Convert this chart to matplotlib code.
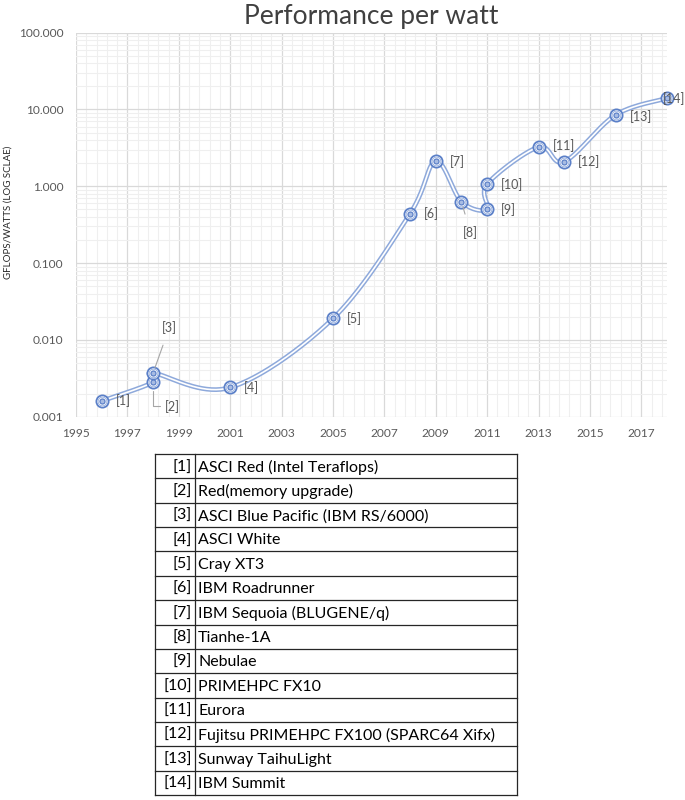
import numpy as np
import matplotlib
matplotlib.use("Agg")
import matplotlib.pyplot as plt
from matplotlib.ticker import FixedLocator, FuncFormatter, NullFormatter

# ---------------- data ----------------
years = [1996, 1998, 1998, 2001, 2005, 2008, 2009, 2010, 2011, 2011, 2013, 2014, 2016, 2018]
gflops_per_watt = [0.0016, 0.0028, 0.0037, 0.0024, 0.019, 0.44, 2.13, 0.63, 0.50, 1.07,
                   3.24, 2.09, 8.5, 14.0]
point_labels = ["[1]", "[2]", "[3]", "[4]", "[5]", "[6]", "[7]", "[8]", "[9]", "[10]",
                "[11]", "[12]", "[13]", "[14]"]
system_names = [
    "ASCI Red (Intel Teraflops)",
    "Red(memory upgrade)",
    "ASCI Blue Pacific (IBM RS/6000)",
    "ASCI White",
    "Cray XT3",
    "IBM Roadrunner",
    "IBM Sequoia (BLUGENE/q)",
    "Tianhe-1A",
    "Nebulae",
    "PRIMEHPC FX10",
    "Eurora",
    "Fujitsu PRIMEHPC FX100 (SPARC64 Xifx)",
    "Sunway TaihuLight",
    "IBM Summit",
]
x_ticks = [1995, 1997, 1999, 2001, 2003, 2005, 2007, 2009, 2011, 2013, 2015, 2017]
y_ticks = [0.001, 0.01, 0.1, 1, 10, 100]

plt.rcParams["font.family"] = ["Lato", "DejaVu Sans"]

W, H = 685, 800
fig = plt.figure(figsize=(W / 100, H / 100), dpi=100)

L, R, T, B = 76, 667, 32.7, 416.7
ax = fig.add_axes([L / W, 1 - B / H, (R - L) / W, (B - T) / H])
ax.set_xlim(1995, 2018)
ax.set_yscale("log")
ax.set_ylim(0.001, 100)

# grid
ax.xaxis.set_major_locator(FixedLocator(x_ticks))
ax.xaxis.set_minor_locator(FixedLocator(np.arange(1995, 2018.01, 0.4)))
minor_y = [m * 10.0 ** e for e in range(-3, 2) for m in range(2, 10)]
ax.yaxis.set_major_locator(FixedLocator(y_ticks))
ax.yaxis.set_minor_locator(FixedLocator(minor_y))
ax.yaxis.set_major_formatter(FuncFormatter(lambda v, p: f"{v:.3f}"))
ax.yaxis.set_minor_formatter(NullFormatter())
ax.grid(which="major", color="#D9D9D9", lw=0.9)
ax.grid(which="minor", color="#EFEFEF", lw=0.8)
ax.set_axisbelow(True)
for s in ax.spines.values():
    s.set_visible(False)
ax.tick_params(which="both", length=0)
ax.tick_params(axis="y", labelsize=8.6, labelcolor="#595959", pad=9)
ax.tick_params(axis="x", labelsize=8.6, labelcolor="#595959", pad=8)

# smoothed line (Catmull-Rom / Bezier, computed in screen-proportional space)
sx = (R - L) / 23.0
sy = (B - T) / 5.0
P = np.column_stack([np.array(years, float) * sx, np.log10(gflops_per_watt) * sy])
n = len(P)
curve = []
for i in range(n - 1):
    p0 = P[max(i - 1, 0)]
    p1 = P[i]
    p2 = P[i + 1]
    p3 = P[min(i + 2, n - 1)]
    c1 = p1 + (p2 - p0) / 6.0
    c2 = p2 - (p3 - p1) / 6.0
    t = np.linspace(0, 1, 40)[:, None]
    seg = ((1 - t) ** 3) * p1 + 3 * ((1 - t) ** 2) * t * c1 + 3 * (1 - t) * t ** 2 * c2 + t ** 3 * p2
    curve.append(seg if i == 0 else seg[1:])
curve = np.vstack(curve)
cx = curve[:, 0] / sx
cy = 10 ** (curve[:, 1] / sy)
ax.plot(cx, cy, color="#8EA9DB", lw=3.4, solid_capstyle="round", zorder=3, clip_on=False)
ax.plot(cx, cy, color="white", lw=1.2, solid_capstyle="round", zorder=3.1, clip_on=False)

# markers
ax.plot(years, gflops_per_watt, "o", ms=8.8, mfc="white", mec="#5B80C8", mew=1.3,
        zorder=4, clip_on=False)
ax.plot(years, gflops_per_watt, "o", ms=6.3, mfc="none", mec="#9DB4E0", mew=0.7,
        zorder=4.1, clip_on=False)
ax.plot(years, gflops_per_watt, "o", ms=3.6, mfc="#A8BCE3", mec="#5B80C8", mew=0.9,
        zorder=4.2, clip_on=False)

LFS = 9.0
# point labels (pixel offsets)
offsets = {0: (14, 0), 1: None, 2: None, 3: (14, 0), 4: (14, 0), 5: (14, 0), 6: (14, 0),
           7: None, 8: (14, 0), 9: (14, -1), 10: (14, 2), 11: (14, 0), 12: (14, -2),
           13: (-4, 0)}
for i, lab in enumerate(point_labels):
    off = offsets[i]
    if off is None:
        continue
    ax.annotate(lab, (years[i], gflops_per_watt[i]), xytext=off, textcoords="offset pixels",
                ha="left", va="center", fontsize=LFS, color="#595959", zorder=5,
                annotation_clip=False)

lead = dict(color="#A6A6A6", lw=0.8)
# [3]
ax.annotate("[3]", (years[2], gflops_per_watt[2]), xytext=(16, 45), textcoords="offset pixels",
            ha="center", va="center", fontsize=LFS, color="#595959", zorder=5,
            arrowprops=dict(arrowstyle="-", shrinkA=6, shrinkB=4, **lead))
# [2] with elbow leader
ax.annotate("[2]", (years[1], gflops_per_watt[1]), xytext=(12, -24), textcoords="offset pixels",
            ha="left", va="center", fontsize=LFS, color="#595959", zorder=5,
            arrowprops=dict(arrowstyle="-", shrinkA=2, shrinkB=6, relpos=(0, 0.5),
                            connectionstyle="angle,angleA=0,angleB=90,rad=0", **lead))
# [8]
ax.annotate("[8]", (years[7], gflops_per_watt[7]), xytext=(9, -31), textcoords="offset pixels",
            ha="center", va="center", fontsize=LFS, color="#595959", zorder=5,
            arrowprops=dict(arrowstyle="-", shrinkA=7, shrinkB=4, **lead))

ax.set_title("Performance per watt", fontsize=19, color="#404040", pad=6)
fig.text(8 / W, 1 - 212 / H, "GFLOPS/WATTS (LOG SCLAE)", rotation=90, ha="center",
         va="center", fontsize=7.0, color="#262626")

# ---------------- table ----------------
TL, TR, TT, TB = 155, 517, 454, 795
tax = fig.add_axes([TL / W, 1 - TB / H, (TR - TL) / W, (TB - TT) / H])
tax.set_xlim(TL, TR)
tax.set_ylim(len(system_names), 0)
tax.axis("off")
nrow = len(system_names)
for k in range(nrow + 1):
    tax.plot([TL, TR], [k, k], color="#262626", lw=0.9, clip_on=False)
tax.plot([TL, TL], [0, nrow], color="#262626", lw=0.9, clip_on=False)
tax.plot([TR, TR], [0, nrow], color="#262626", lw=0.9, clip_on=False)
tax.plot([195, 195], [0, nrow], color="#262626", lw=0.9, clip_on=False)
for k, (lab, name) in enumerate(zip(point_labels, system_names)):
    tax.text(192, k + 0.55, lab, ha="right", va="center", fontsize=11.5, color="black")
    tax.text(198, k + 0.55, name, ha="left", va="center", fontsize=11.5, color="black")

fig.savefig("out.png", dpi=100, facecolor="white")
